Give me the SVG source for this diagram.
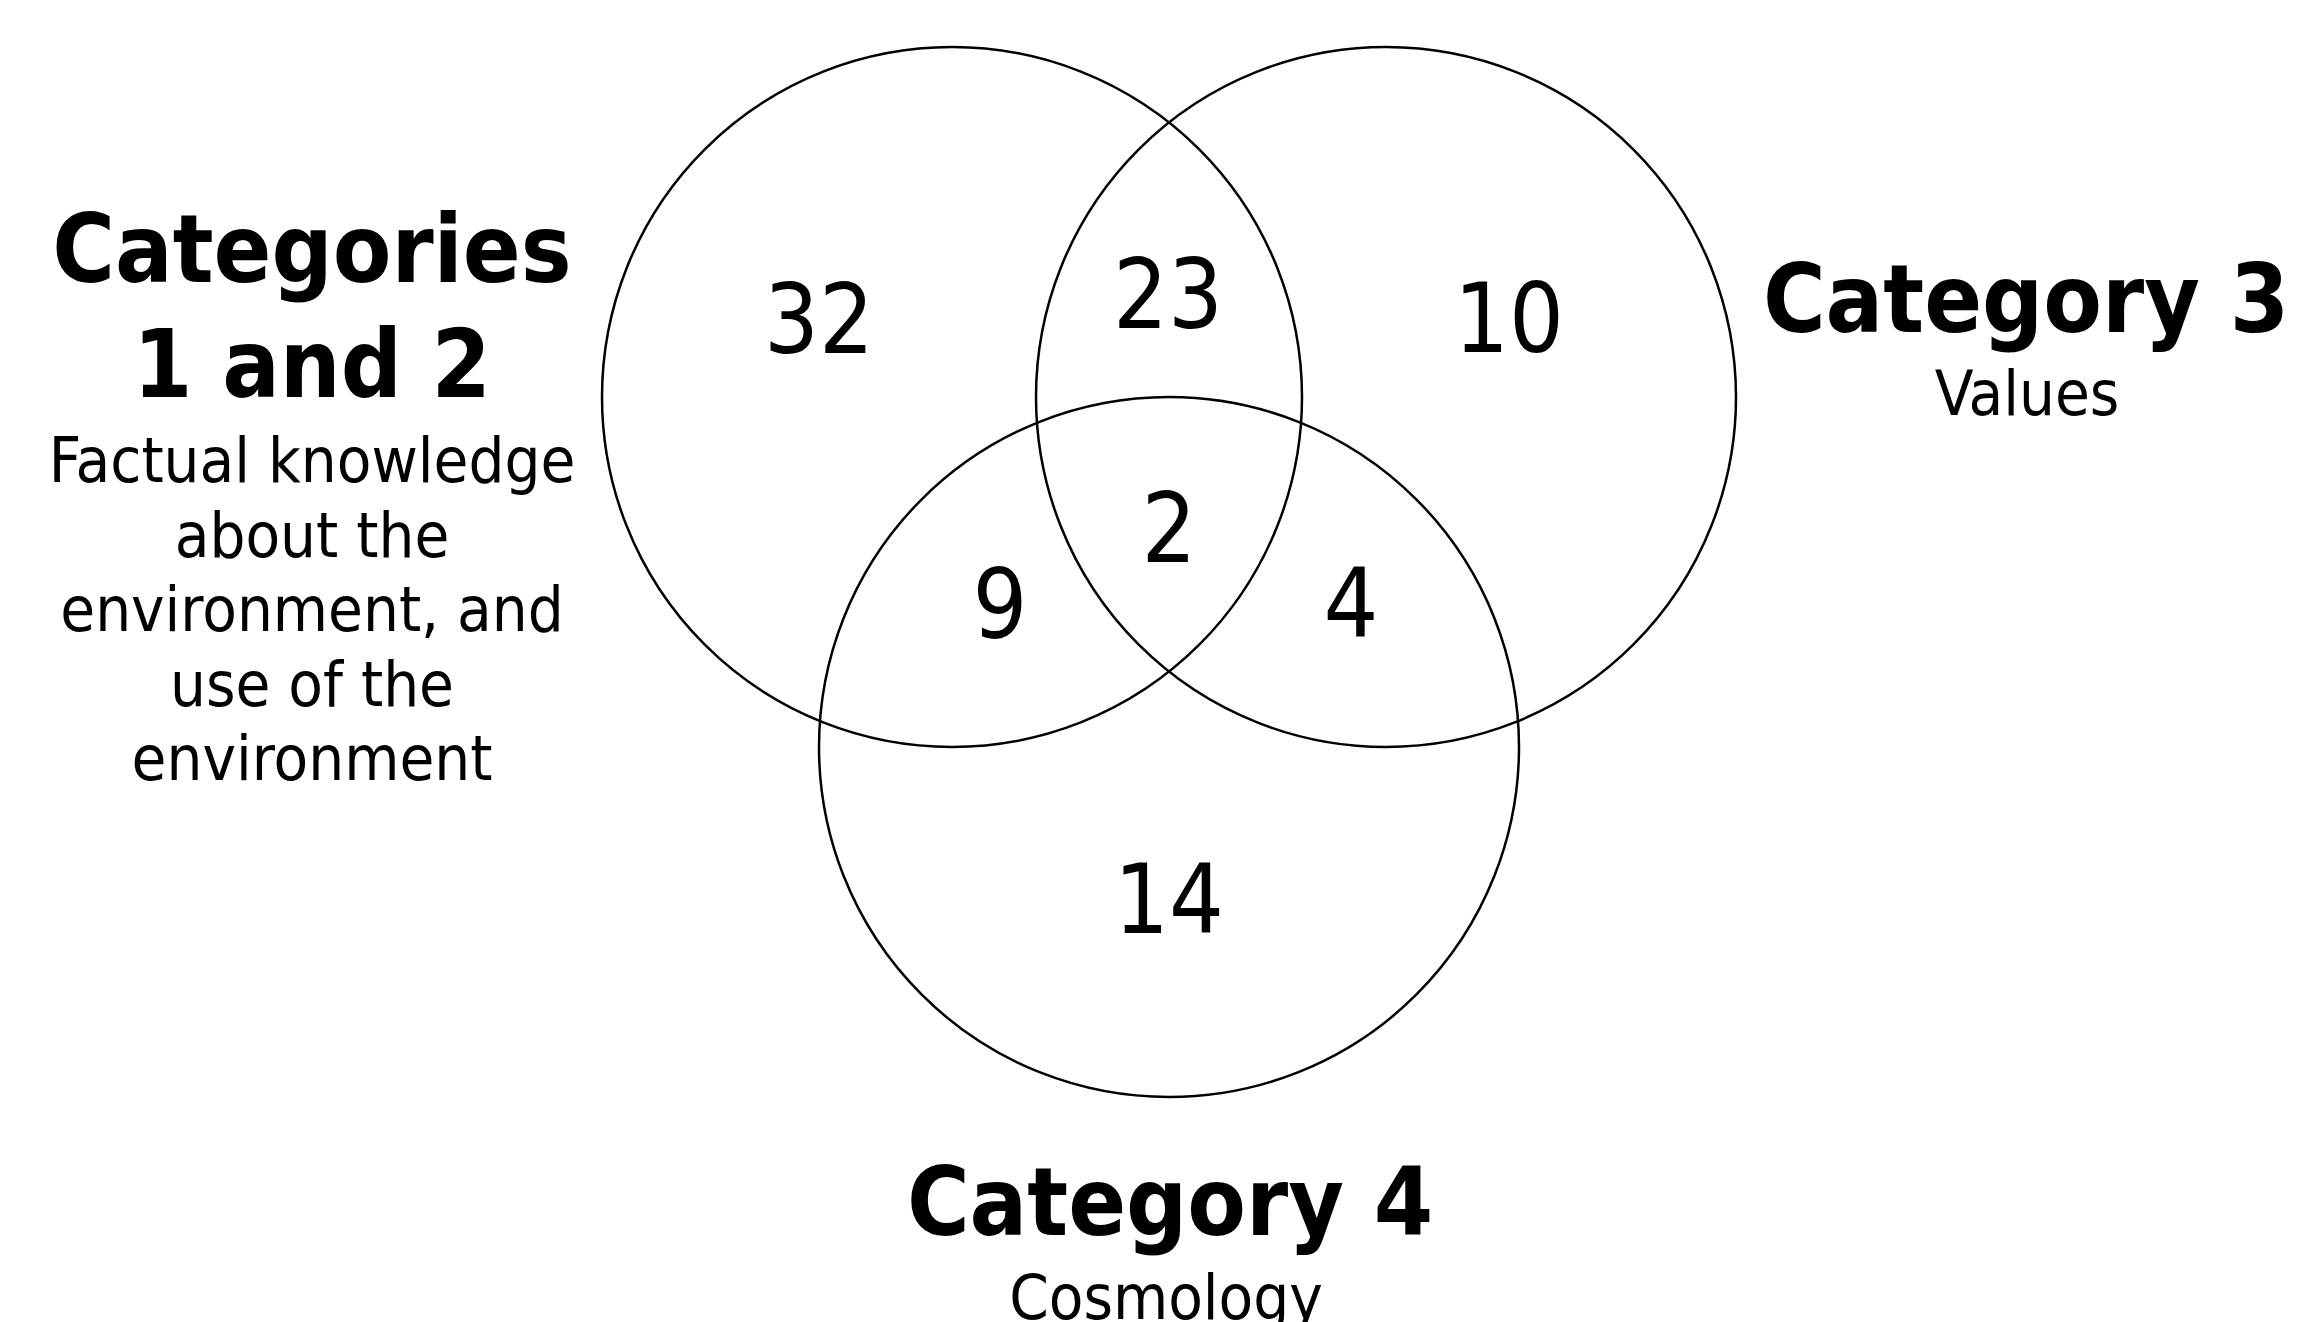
<svg xmlns="http://www.w3.org/2000/svg" width="2297" height="1322" viewBox="0 0 2297 1322">
<style>
  .set { fill: none; stroke: #000; stroke-width: 2.5; }
  text { font-family: "DejaVu Sans Condensed", "DejaVu Sans", sans-serif; font-stretch: condensed; fill: #000; text-anchor: middle; }
  .title { font-size: 95px; font-weight: bold; }
  .sub { font-size: 63px; }
  .num { font-size: 96px; }
</style>
<rect x="0" y="0" width="2297" height="1322" fill="#fff"/>
<g id="connectors"></g>
<g id="set-cat12">
  <circle class="set" cx="952" cy="397" r="350"/>
</g>
<g id="set-cat3">
  <circle class="set" cx="1386" cy="397" r="350"/>
</g>
<g id="set-cat4">
  <circle class="set" cx="1169" cy="747" r="350"/>
</g>
<g id="label-cat12">
  <text class="title" x="312" y="282">Categories</text>
  <text class="title" x="312" y="397">1 and 2</text>
  <text class="sub" x="312" y="482">Factual knowledge</text>
  <text class="sub" x="312" y="557">about the</text>
  <text class="sub" x="312" y="631">environment, and</text>
  <text class="sub" x="312" y="706">use of the</text>
  <text class="sub" x="312" y="780">environment</text>
</g>
<g id="label-cat3">
  <text class="title" x="2026" y="332">Category 3</text>
  <text class="sub" x="2027" y="415">Values</text>
</g>
<g id="label-cat4">
  <text class="title" x="1170" y="1235">Category 4</text>
  <text class="sub" x="1166" y="1319">Cosmology</text>
</g>
<g id="counts">
  <text class="num" x="819" y="353">32</text>
  <text class="num" x="1168" y="328">23</text>
  <text class="num" x="1509" y="352">10</text>
  <text class="num" x="1169" y="562">2</text>
  <text class="num" x="1000" y="638">9</text>
  <text class="num" x="1351" y="637">4</text>
  <text class="num" x="1169" y="933">14</text>
</g>
</svg>
